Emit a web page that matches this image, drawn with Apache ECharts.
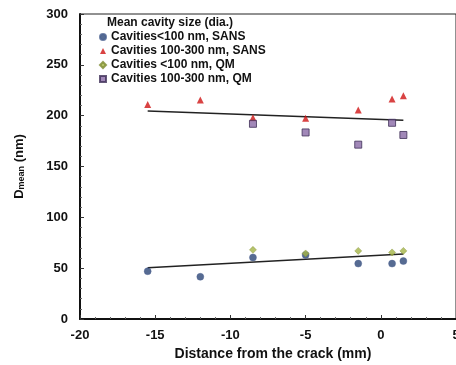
<!DOCTYPE html>
<html>
<head>
<meta charset="utf-8">
<script src="https://cdn.jsdelivr.net/npm/echarts@6/dist/echarts.min.js"></script>
<style>
  html, body { margin: 0; padding: 0; background: #fff; }
  #chart { width: 456px; height: 365px; }
</style>
</head>
<body>
<div id="chart"></div>
<script>
// distances from the crack (mm)
const xSansSmall = [-15.5, -12.0, -8.5, -5.0, -1.5, 0.75, 1.5];
const ySansSmall = [47, 41.5, 60.5, 63, 54.5, 54.5, 57];
const xSansLarge = [-15.5, -12.0, -8.5, -5.0, -1.5, 0.75, 1.5];
const ySansLarge = [211, 215.5, 198, 197.5, 205.5, 216.5, 219.5];
const xQmSmall = [-8.5, -5.0, -1.5, 0.75, 1.5];
const yQmSmall = [68, 64.5, 67, 65.5, 67];
const xQmLarge = [-8.5, -5.0, -1.5, 0.75, 1.5];
const yQmLarge = [192, 183.5, 171.5, 193, 181];
// trend lines (end points)
const xFitSmall = [-15.5, 1.5];
const yFitSmall = [50.5, 64];
const xFitLarge = [-15.5, 1.5];
const yFitLarge = [204.5, 195.5];

const legendNames = [
  "Cavities<100 nm, SANS",
  "Cavities 100-300 nm, SANS",
  "Cavities <100 nm, QM",
  "Cavities 100-300 nm, QM",
];

const font = "Arial, 'Liberation Sans', sans-serif";
const zip = (xs, ys) => xs.map((x, i) => [x, ys[i]]);

const chart = echarts.init(document.getElementById("chart"));
chart.setOption({
  animation: false,
  title: {
    text: "Mean cavity size (dia.)",
    left: 107,
    top: 17,
    padding: 0,
    textStyle: { fontFamily: font, fontSize: 12, fontWeight: "bold", color: "#111" },
  },
  legend: {
    data: legendNames,
    orient: "vertical",
    left: 99,
    top: 30,
    padding: 0,
    itemGap: 0,
    itemWidth: 6,
    itemHeight: 6,
    textStyle: { fontFamily: font, fontSize: 12, fontWeight: "bold", color: "#111", lineHeight: 14 },
  },
  grid: {
    left: 80,
    right: 0,
    top: 14,
    bottom: 46,
    outerBoundsMode: "none",
    show: true,
    borderColor: "#222",
    borderWidth: 1,
  },
  xAxis: {
    type: "value",
    min: -20,
    max: 5,
    interval: 5,
    name: "Distance from the crack (mm)",
    nameLocation: "middle",
    nameGap: 27,
    nameTextStyle: { fontFamily: font, fontSize: 14, fontWeight: "bold", color: "#111", padding: [0, 0, 0, 10] },
    axisLine: { onZero: false, lineStyle: { color: "#111", width: 2 } },
    axisTick: { inside: true, length: 4, lineStyle: { color: "#333" } },
    minorTick: { show: true, splitNumber: 5, length: 2, lineStyle: { color: "#666" } },
    splitLine: { show: false },
    axisLabel: { margin: 10, fontFamily: font, fontSize: 13, fontWeight: "bold", color: "#111" },
  },
  yAxis: {
    type: "value",
    min: 0,
    max: 300,
    interval: 50,
    name: "{d|D}{s|mean}{d| (nm)}",
    nameLocation: "middle",
    nameGap: 54,
    nameTextStyle: {
      rich: {
        d: { fontFamily: font, fontSize: 13, fontWeight: "bold", color: "#111" },
        s: { fontFamily: font, fontSize: 9, fontWeight: "bold", color: "#111", verticalAlign: "bottom", padding: [5, 0, 0, 0] },
      },
    },
    axisLine: { onZero: false, lineStyle: { color: "#111", width: 2 } },
    axisTick: { inside: true, length: 4, lineStyle: { color: "#333" } },
    minorTick: { show: true, splitNumber: 5, length: 2, lineStyle: { color: "#666" } },
    splitLine: { show: false },
    axisLabel: { margin: 12, fontFamily: font, fontSize: 13, fontWeight: "bold", color: "#111" },
  },
  series: [
    {
      name: legendNames[0],
      type: "scatter",
      symbol: "circle",
      symbolSize: 7,
      itemStyle: { color: "#2c4677", borderColor: "#4a6090", borderWidth: 0.5 },
      data: zip(xSansSmall, ySansSmall),
      z: 3,
    },
    {
      name: legendNames[1],
      type: "scatter",
      symbol: "triangle",
      symbolSize: 7,
      itemStyle: { color: "#d01414" },
      data: zip(xSansLarge, ySansLarge),
      z: 3,
    },
    {
      name: legendNames[2],
      type: "scatter",
      symbol: "diamond",
      symbolSize: 7,
      itemStyle: { color: "#a4b446", borderColor: "#7d8a30", borderWidth: 0.5 },
      data: zip(xQmSmall, yQmSmall),
      z: 4,
    },
    {
      name: legendNames[3],
      type: "scatter",
      symbol: "rect",
      symbolSize: 7,
      itemStyle: { color: "#8a6aa6", borderColor: "#3e2f58", borderWidth: 1 },
      data: zip(xQmLarge, yQmLarge),
      z: 3,
    },
    {
      type: "line",
      data: zip(xFitSmall, yFitSmall),
      symbol: "none",
      lineStyle: { color: "#222", width: 1.5 },
      z: 2,
    },
    {
      type: "line",
      data: zip(xFitLarge, yFitLarge),
      symbol: "none",
      lineStyle: { color: "#222", width: 1.5 },
      z: 2,
    },
  ],
});
</script>
</body>
</html>
